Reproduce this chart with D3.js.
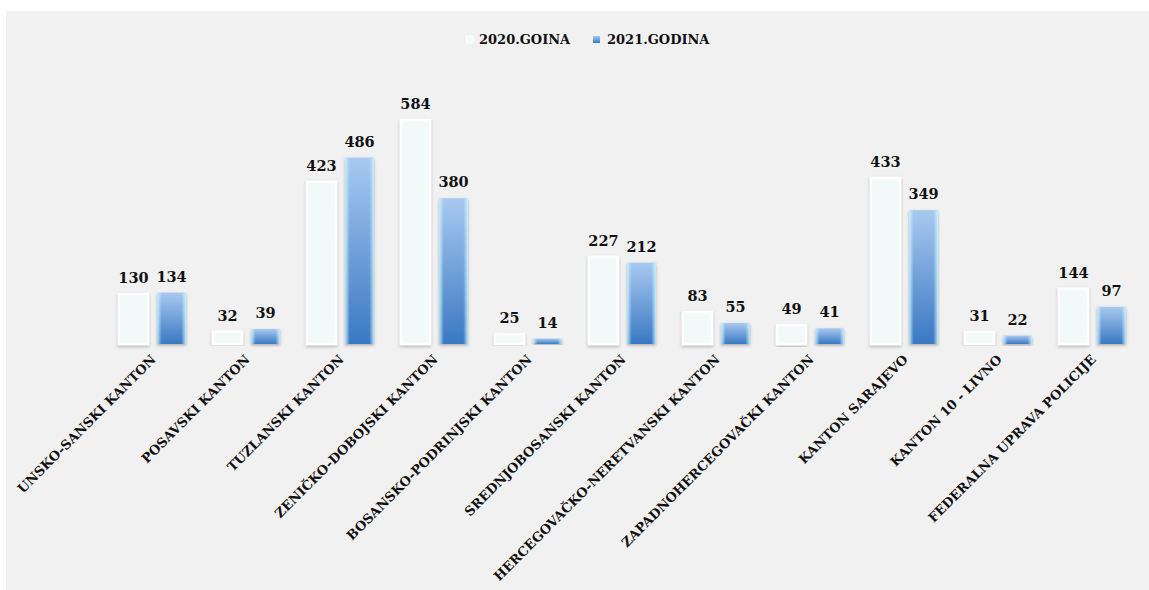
<!DOCTYPE html>
<html><head><meta charset="utf-8">
<script src="https://cdn.jsdelivr.net/npm/d3@7"></script>
<style>
html,body{margin:0;padding:0;background:#fff;}
svg{display:block;}
</style></head>
<body>
<svg id="chart" width="1149" height="590"></svg>
<script>
const categories = ["UNSKO-SANSKI KANTON","POSAVSKI KANTON","TUZLANSKI KANTON","ZENIČKO-DOBOJSKI KANTON","BOSANSKO-PODRINJSKI KANTON","SREDNJOBOSANSKI KANTON","HERCEGOVAČKO-NERETVANSKI KANTON","ZAPADNOHERCEGOVAČKI KANTON","KANTON SARAJEVO","KANTON 10 - LIVNO","FEDERALNA UPRAVA POLICIJE"];
const values2020 = [130,32,423,584,25,227,83,49,433,31,144];
const values2021 = [134,39,486,380,14,212,55,41,349,22,97];
const seriesNames = ["2020.GOINA","2021.GODINA"];

const svg = d3.select("#chart");
const defs = svg.append("defs");
const serif = "'DejaVu Serif', serif";

// background panel
svg.append("rect").attr("x",6).attr("y",11).attr("width",1143).attr("height",579).attr("fill","#f1f1f1");

// gradients
const gBlue = defs.append("linearGradient").attr("id","gBlue").attr("x1",0).attr("y1",0).attr("x2",0).attr("y2",1);
gBlue.append("stop").attr("offset","0%").attr("stop-color","#a8c9f0");
gBlue.append("stop").attr("offset","100%").attr("stop-color","#3a78c2");
const gEdge = defs.append("linearGradient").attr("id","gEdge").attr("x1",0).attr("y1",0).attr("x2",1).attr("y2",0);
gEdge.append("stop").attr("offset","0%").attr("stop-color","#c8f4ff").attr("stop-opacity",0.9);
gEdge.append("stop").attr("offset","16%").attr("stop-color","#c8f4ff").attr("stop-opacity",0);
gEdge.append("stop").attr("offset","84%").attr("stop-color","#c8f4ff").attr("stop-opacity",0);
gEdge.append("stop").attr("offset","100%").attr("stop-color","#c8f4ff").attr("stop-opacity",0.9);
const f = defs.append("filter").attr("id","shadow").attr("x","-30%").attr("y","-10%").attr("width","160%").attr("height","125%");
f.append("feDropShadow").attr("dx",0).attr("dy",1.5).attr("stdDeviation",1.6).attr("flood-color","#000").attr("flood-opacity",0.28);

const x0 = d3.scaleBand().domain(categories).range([105.5,1139.5]).paddingInner(0).paddingOuter(0);
const x1 = d3.scaleBand().domain(seriesNames).range([0,x0.bandwidth()]).paddingInner(0.24).paddingOuter(0.355);
const y = d3.scaleLinear().domain([0,700]).range([344,75.5]);

const data = categories.map((c,i)=>({c, v:[values2020[i],values2021[i]]}));

const groups = svg.append("g").selectAll("g").data(data).join("g")
  .attr("transform",d=>`translate(${x0(d.c)},0)`);

// 2020 bars
groups.append("rect")
  .attr("x",x1(seriesNames[0])).attr("width",x1.bandwidth())
  .attr("y",d=>y(d.v[0])).attr("height",d=>y(0)-y(d.v[0]))
  .attr("fill","#f1f9f9").attr("stroke","#ffffff").attr("stroke-width",2.5)
  .attr("filter","url(#shadow)");
// 2021 bars
groups.append("rect")
  .attr("x",x1(seriesNames[1])).attr("width",x1.bandwidth())
  .attr("y",d=>y(d.v[1])).attr("height",d=>y(0)-y(d.v[1]))
  .attr("fill","url(#gBlue)").attr("filter","url(#shadow)");
groups.append("rect")
  .attr("x",x1(seriesNames[1])).attr("width",x1.bandwidth())
  .attr("y",d=>y(d.v[1])).attr("height",d=>y(0)-y(d.v[1]))
  .attr("fill","url(#gEdge)");

// value labels
[0,1].forEach(s=>{
  groups.append("text")
    .attr("x",x1(seriesNames[s])+x1.bandwidth()/2)
    .attr("y",d=>y(d.v[s])-11)
    .attr("text-anchor","middle")
    .attr("font-family",serif).attr("font-weight","bold").attr("font-size",14.5)
    .attr("fill","#111")
    .text(d=>d.v[s]);
});

// x axis labels
const xAxis = d3.axisBottom(x0).tickSize(0).tickPadding(0);
const ax = svg.append("g").attr("transform","translate(0,357)").call(xAxis);
ax.select(".domain").remove();
ax.selectAll("text")
  .attr("font-family",serif).attr("font-weight","bold").attr("font-size",13)
  .attr("fill","#111")
  .attr("text-anchor","end").attr("dy","0.35em")
  .attr("transform","translate(1,0) rotate(-45)");

// legend
const leg = svg.append("g");
const legItems = [{n:seriesNames[0],x:466},{n:seriesNames[1],x:592}];
leg.append("rect").attr("x",466).attr("y",36).attr("width",7).attr("height",7).attr("fill","#f4fbfb").attr("stroke","#fff");
leg.append("rect").attr("x",593).attr("y",36).attr("width",7).attr("height",7).attr("fill","url(#gBlue)");
legItems.forEach((d,i)=>{
  leg.append("text").attr("x",d.x+(i?15:13)).attr("y",44)
    .attr("font-family",serif).attr("font-weight","bold").attr("font-size",13)
    .attr("fill","#111").text(d.n);
});
</script>
</body></html>
